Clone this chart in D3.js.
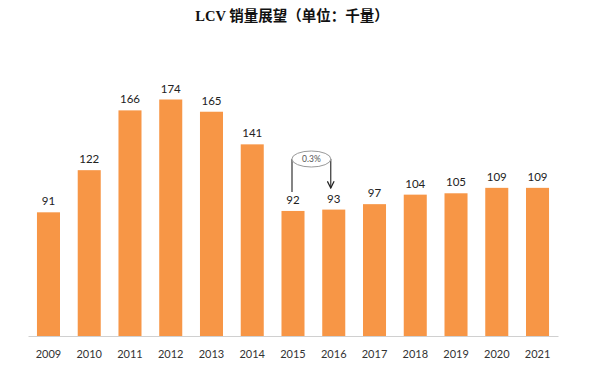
<!DOCTYPE html>
<html>
<head>
<meta charset="utf-8">
<script src="https://cdn.jsdelivr.net/npm/d3@7"></script>
<style>
  body { margin: 0; background: #fff; }
  text { font-family: Lato, "Noto Sans", sans-serif; }
</style>
</head>
<body>
<svg width="600" height="380"></svg>
<script>
const years = ['2009','2010','2011','2012','2013','2014','2015','2016','2017','2018','2019','2020','2021'];
const sales = [91, 122, 166, 174, 165, 141, 92, 93, 97, 104, 105, 109, 109];
const note = {from: '2015', to: '2016', label: '0.3%'};

const svg = d3.select('svg');
const baseY = 336;

// x bands, y linear
const xScale = d3.scaleBand()
    .domain(years)
    .range([28, 558])
    .paddingInner(0.435)
    .paddingOuter(0.22);

const yScale = d3.scaleLinear()
    .domain([0, 174])
    .range([baseY, 99.5]);

// title
svg.append('text')
    .attr('x', 292).attr('y', 21)
    .attr('text-anchor', 'middle')
    .attr('font-size', 14.5)
    .attr('font-weight', 'bold')
    .attr('fill', '#111')
    .style('font-family', '"Liberation Serif", "Noto Sans CJK SC", serif')
    .text('LCV 销量展望（单位：千量）');

// bars
svg.selectAll('rect.bar')
    .data(years)
    .enter()
    .append('rect')
    .attr('class', 'bar')
    .attr('x', d => xScale(d))
    .attr('y', (d, i) => yScale(sales[i]))
    .attr('width', xScale.bandwidth())
    .attr('height', (d, i) => baseY - yScale(sales[i]))
    .attr('fill', '#F79646');

// axis
const gX = svg.append('g')
    .attr('transform', `translate(0,${baseY})`)
    .call(d3.axisBottom(xScale).tickSize(0).tickPadding(14));
gX.select('.domain').attr('stroke', '#d0d0d0');
gX.selectAll('text').attr('font-size', 11).attr('fill', '#333')
    .style('font-family', 'Lato, "Noto Sans", sans-serif');

// value labels
svg.selectAll('text.val')
    .data(years)
    .enter()
    .append('text')
    .attr('class', 'val')
    .attr('x', d => xScale(d) + xScale.bandwidth() / 2)
    .attr('y', (d, i) => yScale(sales[i]) - 7)
    .attr('text-anchor', 'middle')
    .attr('font-size', 11.5)
    .attr('fill', '#222')
    .text((d, i) => sales[i]);

// growth note with arrow
svg.append('defs').append('marker')
    .attr('id', 'arr')
    .attr('viewBox', '0 0 10 10')
    .attr('refX', 9).attr('refY', 5)
    .attr('markerWidth', 7).attr('markerHeight', 7)
    .attr('orient', 'auto')
    .append('path')
    .attr('d', 'M1,1 L9,5 L1,9')
    .attr('fill', 'none')
    .attr('stroke', '#222')
    .attr('stroke-width', 1.5);

const x1 = xScale(note.from) + xScale.bandwidth() / 2 - 1;
const x2 = xScale(note.to) + xScale.bandwidth() / 2 - 3;
const ey = 159;
svg.append('line')
    .attr('x1', x1).attr('y1', ey).attr('x2', x1).attr('y2', 192)
    .attr('stroke', '#333').attr('stroke-width', 1.2);
svg.append('line')
    .attr('x1', x2).attr('y1', ey).attr('x2', x2).attr('y2', 188)
    .attr('stroke', '#333').attr('stroke-width', 1.2)
    .attr('marker-end', 'url(#arr)');
svg.append('ellipse')
    .attr('cx', (x1 + x2) / 2).attr('cy', ey)
    .attr('rx', 19.5).attr('ry', 8)
    .attr('fill', '#fff')
    .attr('stroke', '#999').attr('stroke-width', 1);
svg.append('text')
    .attr('x', (x1 + x2) / 2).attr('y', ey + 3)
    .attr('text-anchor', 'middle')
    .attr('font-size', 8.5)
    .attr('fill', '#555')
    .text(note.label);
</script>
</body>
</html>
